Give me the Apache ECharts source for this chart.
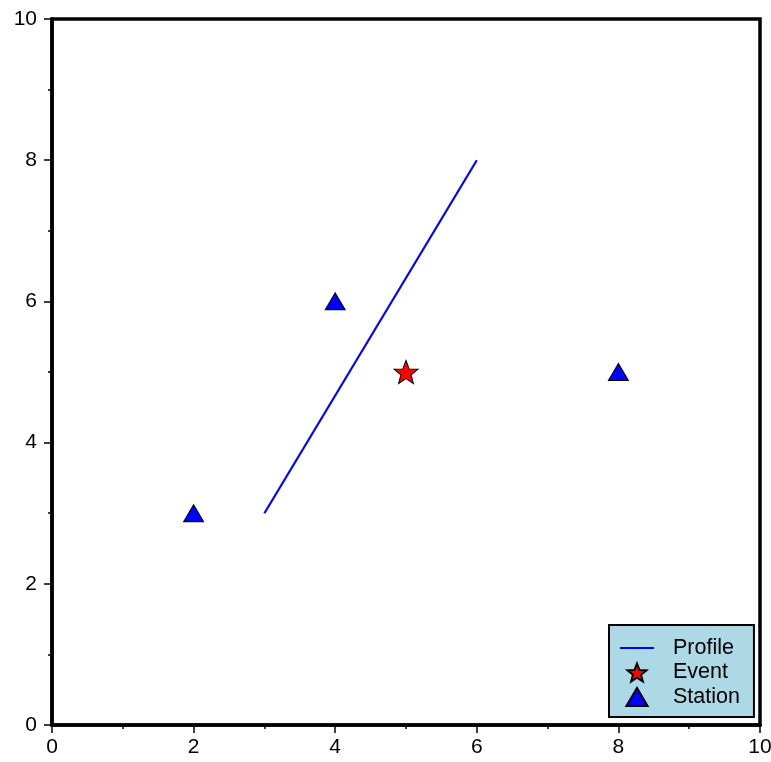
<!DOCTYPE html>
<html>
<head>
<meta charset="utf-8">
<script src="https://cdn.jsdelivr.net/npm/echarts@6/dist/echarts.min.js"></script>
<style>
  html, body { margin: 0; padding: 0; background: #fff; }
  #main { width: 771px; height: 762px; }
</style>
</head>
<body>
<div id="main"></div>
<script>
// data
var profileLine = [[3, 3], [6, 8]];
var eventPoints = [[5, 5]];
var stationPoints = [[2, 3], [4, 6], [8, 5]];
var axisTicks = [0, 2, 4, 6, 8, 10];

// 5 point star, inner radius a bit fat like the GMT one
var starPath = 'path://M100,0 L125,66 L195.1,69.1 L140.4,113.1 L158.8,180.9 L100,142 L41.2,180.9 L59.6,113.1 L4.9,69.1 L75,66 Z';
var triPath = 'path://M10,0 L20,17 L0,17 Z';
var linePath = 'path://M0,0 H34 V2 H0 Z';

var myChart = echarts.init(document.getElementById('main'));

function makeAxis(pos, margin) {
    return {
        type: 'value',
        position: pos,
        min: axisTicks[0],
        max: axisTicks[axisTicks.length - 1],
        interval: 2,
        axisLine: { show: true, onZero: false, lineStyle: { color: '#000', width: 3.5 } },
        axisTick: { show: true, inside: false, length: 8, lineStyle: { color: '#000', width: 1.5 } },
        minorTick: { show: true, splitNumber: 2, length: 4, lineStyle: { color: '#000', width: 1.5 } },
        splitLine: { show: false },
        axisLabel: {
            margin: margin,
            color: '#000',
            fontFamily: 'Liberation Sans',
            fontSize: 21
        }
    };
}

var option = {
    animation: false,
    grid: {
        left: 52,
        right: 11,
        top: 19,
        bottom: 37,
        outerBoundsMode: 'none',
        containLabel: false,
        show: true,
        borderColor: '#000',
        borderWidth: 3.5
    },
    xAxis: makeAxis('bottom', 12),
    yAxis: makeAxis('left', 15),
    legend: {
        orient: 'vertical',
        left: 609,
        top: 625,
        padding: [12, 14, 9, 11],
        backgroundColor: '#add8e6',
        borderColor: '#000',
        borderWidth: 2,
        borderRadius: 0,
        itemWidth: 34,
        itemHeight: 18,
        itemGap: 2.5,
        textStyle: {
            color: '#000',
            fontFamily: 'Liberation Sans',
            fontSize: 21.5,
            padding: [0, 0, 0, 14]
        },
        data: [
            { name: 'Profile', icon: linePath, itemStyle: { borderWidth: 0 } },
            { name: 'Event', icon: starPath },
            { name: 'Station', icon: triPath }
        ]
    },
    series: [
        {
            name: 'Profile',
            type: 'line',
            data: profileLine,
            symbol: 'none',
            color: '#0000ff',
            lineStyle: { color: '#0000ff', width: 2.2 },
            itemStyle: { color: '#0000ff', borderWidth: 0 },
            z: 2
        },
        {
            name: 'Event',
            type: 'scatter',
            data: eventPoints,
            symbol: starPath,
            symbolSize: [24, 23],
            itemStyle: { color: '#ff0000', borderColor: '#000', borderWidth: 1, opacity: 1 },
            z: 3
        },
        {
            name: 'Station',
            type: 'scatter',
            data: stationPoints,
            symbol: triPath,
            symbolSize: [20, 17],
            itemStyle: { color: '#0000ff', borderColor: '#000', borderWidth: 1, opacity: 1 },
            z: 3
        }
    ]
};

myChart.setOption(option);
</script>
</body>
</html>
